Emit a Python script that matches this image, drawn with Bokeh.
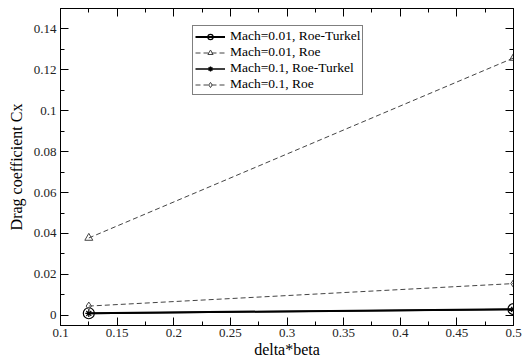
from bokeh.plotting import figure
from bokeh.models import FixedTicker, LinearAxis, Range1d, Legend, LegendItem
from bokeh.embed import file_html
from bokeh.resources import INLINE

delta_beta = [0.125, 0.5]
mach001_roe_turkel = [0.0010, 0.0030]
mach001_roe = [0.0378, 0.1258]
mach01_roe_turkel = [0.0009, 0.0029]
mach01_roe = [0.0045, 0.0155]

x_ticks = [0.1, 0.15, 0.2, 0.25, 0.3, 0.35, 0.4, 0.45, 0.5]
x_labels = ["0.1", "0.15", "0.2", "0.25", "0.3", "0.35", "0.4", "0.45", "0.5"]
x_minor = [0.125, 0.175, 0.225, 0.275, 0.325, 0.375, 0.425, 0.475]
y_ticks = [0.0, 0.02, 0.04, 0.06, 0.08, 0.1, 0.12, 0.14]
y_labels = ["0", "0.02", "0.04", "0.06", "0.08", "0.1", "0.12", "0.14"]
y_minor = [0.01, 0.03, 0.05, 0.07, 0.09, 0.11, 0.13]

FONT = "Liberation Serif"

p = figure(width=526, height=361, output_backend="svg", toolbar_location=None,
           x_range=Range1d(0.1, 0.5), y_range=Range1d(-0.005, 0.15),
           min_border_left=60, min_border_right=13, min_border_top=8, min_border_bottom=36)
p.grid.visible = False
p.outline_line_color = "black"
p.outline_line_width = 1
p.background_fill_color = "white"
p.border_fill_color = "white"

def style_axis(ax, ticks, labels, minor, show_labels=True):
    ax.ticker = FixedTicker(ticks=ticks, minor_ticks=minor)
    if show_labels:
        ax.major_label_overrides = {t: l for t, l in zip(ticks, labels)}
    else:
        ax.major_label_overrides = {t: "" for t in ticks}
    ax.major_tick_in = 8
    ax.major_tick_out = 0
    ax.minor_tick_in = 4
    ax.minor_tick_out = 0
    ax.axis_line_color = "black"
    ax.major_tick_line_color = "black"
    ax.minor_tick_line_color = "black"
    ax.major_label_text_font = FONT
    ax.major_label_text_font_size = "13px" if show_labels else "1px"
    ax.major_label_text_color = "#222222"
    ax.axis_label_text_font = FONT
    ax.axis_label_text_font_style = "normal"
    ax.axis_label_text_font_size = "16px"
    ax.axis_label_text_color = "black"

style_axis(p.xaxis[0], x_ticks, x_labels, x_minor)
style_axis(p.yaxis[0], y_ticks, y_labels, y_minor)
p.xaxis[0].axis_label = "delta*beta"
p.yaxis[0].axis_label = "Drag coefficient Cx"
p.xaxis[0].axis_label_standoff = 1
p.yaxis[0].axis_label_standoff = 6
p.xaxis[0].major_label_standoff = 3
p.yaxis[0].major_label_standoff = 4

top = LinearAxis()
right = LinearAxis()
style_axis(top, x_ticks, x_labels, x_minor, show_labels=False)
style_axis(right, y_ticks, y_labels, y_minor, show_labels=False)
top.major_label_standoff = 0
right.major_label_standoff = 0
p.add_layout(top, "above")
p.add_layout(right, "right")

l1 = p.line(delta_beta, mach001_roe_turkel, line_color="black", line_width=2)
m1 = p.scatter(delta_beta, mach001_roe_turkel, marker="circle", size=11, fill_color=None,
               line_color="black", line_width=1.2)
l2 = p.line(delta_beta, mach001_roe, line_color="#444444", line_width=1, line_dash="5 3")
m2 = p.scatter(delta_beta, mach001_roe, marker="triangle", size=8, fill_color=None,
               line_color="#444444", line_width=1)
l3 = p.line(delta_beta, mach01_roe_turkel, line_color="black", line_width=1.5)
m3 = p.scatter(delta_beta, mach01_roe_turkel, marker="asterisk", size=7,
               line_color="black", line_width=1.2)
l4 = p.line(delta_beta, mach01_roe, line_color="#444444", line_width=1, line_dash="5 3")
m4 = p.scatter(delta_beta, mach01_roe, marker="diamond", size=8, fill_color=None,
               line_color="#444444", line_width=1)

legend = Legend(items=[
    LegendItem(label="Mach=0.01, Roe-Turkel", renderers=[l1, m1]),
    LegendItem(label="Mach=0.01, Roe", renderers=[l2, m2]),
    LegendItem(label="Mach=0.1, Roe-Turkel", renderers=[l3, m3]),
    LegendItem(label="Mach=0.1, Roe", renderers=[l4, m4]),
], location=(132, 230))
legend.label_text_font = FONT
legend.label_text_font_size = "13.5px"
legend.label_text_color = "black"
legend.border_line_color = "black"
legend.border_line_width = 1
legend.background_fill_color = "white"
legend.glyph_width = 30
legend.glyph_height = 13
legend.label_height = 13
legend.spacing = 0
legend.padding = 2
legend.margin = 0
legend.label_standoff = 5
p.add_layout(legend, "center")

open("out.html", "w").write(file_html(p, INLINE))
